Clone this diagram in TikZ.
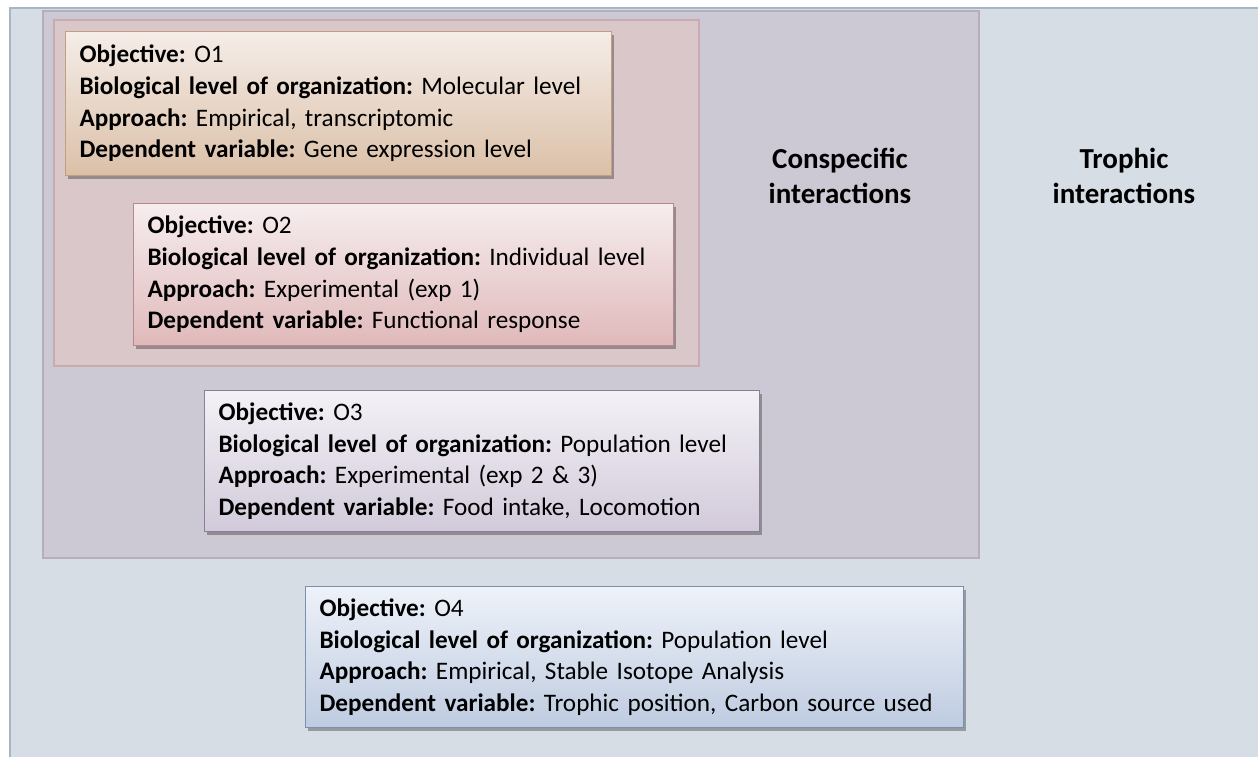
\documentclass[tikz,border=0pt]{standalone}
\usepackage{fontspec}
\setmainfont{Carlito}
\usetikzlibrary{shadows}
\definecolor{outerfill}{HTML}{D6DDE5}
\definecolor{outerdraw}{HTML}{A7B6C6}
\definecolor{conspfill}{HTML}{CDC9D4}
\definecolor{conspdraw}{HTML}{B5AEBE}
\definecolor{redfill}{HTML}{D9C7C9}
\definecolor{reddraw}{HTML}{C8ABAE}
\definecolor{oatop}{HTML}{F5EDE8}
\definecolor{oabot}{HTML}{DBC0A8}
\definecolor{oadraw}{HTML}{C29F80}
\definecolor{obtop}{HTML}{F6EDEE}
\definecolor{obbot}{HTML}{E0B9BA}
\definecolor{obdraw}{HTML}{B48A8C}
\definecolor{octop}{HTML}{F3F1F6}
\definecolor{ocbot}{HTML}{D2CADA}
\definecolor{ocdraw}{HTML}{8A8096}
\definecolor{odtop}{HTML}{EEF2F9}
\definecolor{odbot}{HTML}{BECBE0}
\definecolor{oddraw}{HTML}{7A90AE}
\newcommand{\objtext}[4]{\textbf{Objective:} #1\\\textbf{Biological level of organization:} #2\\\textbf{Approach:} #3\\\textbf{Dependent variable:} #4}
\hbadness=10000
\frenchspacing
\tikzset{
  objbox/.style={anchor=north west, rectangle, line width=1.2pt, inner xsep=14pt, inner ysep=0pt,
    align=left, font=\fontsize{25.2}{31.7}\selectfont\frenchspacing,
    drop shadow={shadow xshift=2pt, shadow yshift=-3pt, opacity=0.3, fill=black}},
  region/.style={line width=2pt},
  heading/.style={font=\fontsize{29}{35}\selectfont\bfseries, align=center, anchor=base, inner sep=0pt}
}
\begin{document}
\begin{tikzpicture}[x=1pt,y=-1pt]
\useasboundingbox (0,0) rectangle (1258,757);
\clip (0,0) rectangle (1258,757);
\fill[white] (0,0) rectangle (1258,757);
\draw[region, fill=outerfill, draw=outerdraw] (10,8) rectangle (1268,770);
\draw[region, fill=conspfill, draw=conspdraw] (43,11) rectangle (979,558);
\draw[region, fill=redfill, draw=reddraw] (54,20) rectangle (699,366);
\node[heading] (consp) at (840,203) {Conspecific\\interactions};
\node[heading] (troph) at (1124,203) {Trophic\\interactions};
\node[objbox, top color=oatop, bottom color=oabot, draw=oadraw, minimum width=546pt, minimum height=144pt, text width=518pt] (o1) at (65,31)
  {\objtext{O1}{Molecular level}{Empirical, transcriptomic}{Gene expression level}};
\node[objbox, top color=obtop, bottom color=obbot, draw=obdraw, minimum width=540pt, minimum height=142pt, text width=512pt] (o2) at (133,203)
  {\objtext{O2}{Individual level}{Experimental (exp 1)}{Functional response}};
\node[objbox, top color=octop, bottom color=ocbot, draw=ocdraw, minimum width=555pt, minimum height=141pt, text width=527pt] (o3) at (204,390)
  {\objtext{O3}{Population level}{Experimental (exp 2 \& 3)}{Food intake, Locomotion}};
\node[objbox, top color=odtop, bottom color=odbot, draw=oddraw, minimum width=658pt, minimum height=141pt, text width=630pt] (o4) at (305,586)
  {\objtext{O4}{Population level}{Empirical, Stable Isotope Analysis}{Trophic position, Carbon source used}};
\end{tikzpicture}
\end{document}
